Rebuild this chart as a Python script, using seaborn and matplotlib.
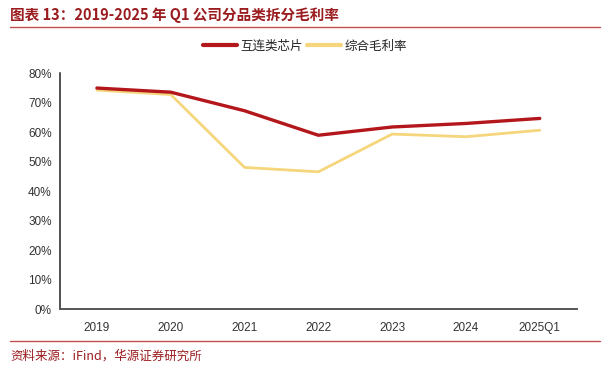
import matplotlib
matplotlib.use("Agg")
import matplotlib.pyplot as plt
import seaborn as sns
import pandas as pd
from matplotlib.lines import Line2D
from matplotlib.ticker import FixedLocator, FuncFormatter

categories = ["2019", "2020", "2021", "2022", "2023", "2024", "2025Q1"]
chip_margin = [75.0, 73.6, 67.3, 59.0, 61.8, 63.0, 64.7]
total_margin = [74.3, 72.8, 48.1, 46.6, 59.4, 58.5, 60.7]
series_names = ["互连类芯片", "综合毛利率"]
y_ticks = [0, 10, 20, 30, 40, 50, 60, 70, 80]

sns.set_theme(style="white")
plt.rcParams["font.family"] = ["Liberation Sans", "Noto Sans CJK SC", "DejaVu Sans"]

df_chip = pd.DataFrame({"cat": categories, "val": chip_margin})
df_total = pd.DataFrame({"cat": categories, "val": total_margin})

red = "#B3161B"
yellow = "#F5D67C"

fig = plt.figure(figsize=(6.12, 3.76), dpi=100)
ax = fig.add_axes([60 / 612, 1 - 309.3 / 376, (576.7 - 60) / 612, (309.3 - 73.3) / 376])

sns.lineplot(data=df_total, x="cat", y="val", color=yellow, linewidth=2.0, ax=ax,
             sort=False, zorder=2)
sns.lineplot(data=df_chip, x="cat", y="val", color=red, linewidth=2.4, ax=ax,
             sort=False, zorder=3)

ax.set_xlim(-0.5, len(categories) - 0.5)
ax.set_ylim(0, 80)
ax.set_yticks(y_ticks)
ax.yaxis.set_major_formatter(FuncFormatter(lambda v, p: f"{int(v)}%"))
ax.set_xticks(range(len(categories)))
ax.set_xticklabels(categories)
ax.xaxis.set_minor_locator(FixedLocator([i - 0.5 for i in range(len(categories) + 1)]))
ax.tick_params(axis="x", which="major", length=0, pad=9, labelsize=8.5, labelcolor="#333333")
ax.tick_params(axis="x", which="minor", length=4, width=1, color="#444444", direction="out")
ax.tick_params(axis="y", which="major", length=4, width=1, color="#222222", direction="out",
               labelsize=8.5, labelcolor="#333333", pad=2)
ax.set_xlabel("")
ax.set_ylabel("")
for side in ["top", "right"]:
    ax.spines[side].set_visible(False)
ax.spines["left"].set_color("#222222")
ax.spines["left"].set_linewidth(1.1)
ax.spines["bottom"].set_color("#555555")
ax.spines["bottom"].set_linewidth(1.4)

handles = [Line2D([0], [0], color=red, lw=3), Line2D([0], [0], color=yellow, lw=3)]
fig.legend(handles, series_names, loc="center", bbox_to_anchor=(305 / 612, 1 - 46 / 376),
           ncol=2, frameon=False, handlelength=2.7, handletextpad=0.3,
           columnspacing=0.3, prop={"family": ["Noto Sans CJK SC"], "size": 9})

title_color = "#9B1C1F"
fig.text(10 / 612, 1 - 15 / 376, "图表 13：2019-2025 年 Q1 公司分品类拆分毛利率",
         fontsize=10.5, fontweight="heavy", color=title_color, va="center", ha="left",
         family=["Noto Sans CJK SC", "DejaVu Sans"])
fig.add_artist(Line2D([10 / 612, 600 / 612], [1 - 26.7 / 376] * 2, color="#C0504D", lw=1.0))
fig.add_artist(Line2D([10 / 612, 600 / 612], [1 - 340.7 / 376] * 2, color="#C0504D", lw=1.0))
fig.text(10 / 612, 1 - 356 / 376, "资料来源：iFind，华源证券研究所", fontsize=9,
         color=title_color, va="center", ha="left", family=["Noto Sans CJK SC", "DejaVu Sans"])

fig.savefig("out.png", dpi=100)
